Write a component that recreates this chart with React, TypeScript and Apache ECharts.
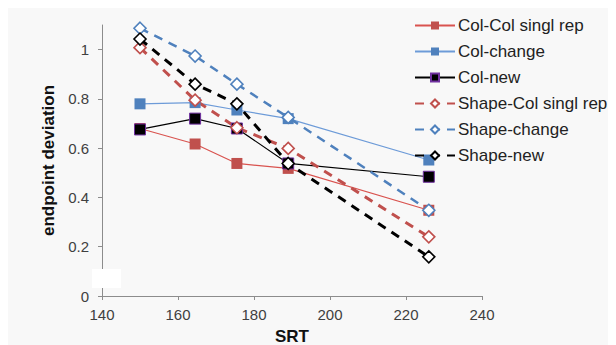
import React, { useEffect, useRef } from "react";
import * as echarts from "echarts";

const srt = [150, 164.5, 175.5, 189, 226];
const seriesNames = [
  "Col-Col singl rep",
  "Col-change",
  "Col-new",
  "Shape-Col singl rep",
  "Shape-change",
  "Shape-new",
];
const colColSingl = [0.68, 0.617, 0.538, 0.518, 0.348];
const colChange = [0.78, 0.785, 0.755, 0.72, 0.552];
const colNew = [0.676, 0.72, 0.68, 0.538, 0.484];
const shapeColSingl = [1.008, 0.795, 0.683, 0.599, 0.24];
const shapeChange = [1.087, 0.974, 0.86, 0.725, 0.348];
const shapeNew = [1.043, 0.86, 0.78, 0.538, 0.159];
const yTicks = [0, 0.2, 0.4, 0.6, 0.8, 1];

const FONT = "'Liberation Sans', Arial, sans-serif";
const RED = "#c0504d";
const BLUE = "#4f81bd";
const BLACK = "#000000";

const pairs = (ys: number[]) => srt.map((x, i) => [x, ys[i]]);

export default function App() {
  const ref = useRef<HTMLDivElement>(null);
  useEffect(() => {
    if (!ref.current) return;
    const chart = echarts.init(ref.current, undefined, { renderer: "svg" });
    const solid = (name: string, ys: number[], color: string, lineColor: string, border?: string) => ({
      name,
      type: "line",
      data: pairs(ys),
      symbol: "rect",
      symbolSize: 11,
      itemStyle: { color, borderColor: border || color, borderWidth: border ? 1 : 0 },
      lineStyle: { color: lineColor, width: 1.2, type: "solid" },
    });
    const dashed = (name: string, ys: number[], color: string, width: number) => ({
      name,
      type: "line",
      data: pairs(ys),
      symbol: "diamond",
      symbolSize: 12,
      itemStyle: { color: "#ffffff", borderColor: color, borderWidth: 1.6 },
      lineStyle: { color, width, type: [9, 7] },
    });
    chart.setOption({
      animation: false,
      backgroundColor: "#f8f8f8",
      textStyle: { fontFamily: FONT },
      grid: { left: 94, top: 17, right: 134, bottom: 49, outerBoundsMode: "none" },
      legend: {
        orient: "vertical",
        left: 401,
        top: 4,
        itemWidth: 40,
        itemHeight: 10,
        itemGap: 9,
        data: seriesNames,
        textStyle: { fontFamily: FONT, fontSize: 17, color: "#222", padding: [0, 0, 0, -2] },
      },
      xAxis: {
        type: "value",
        min: 140,
        max: 240,
        interval: 20,
        name: "SRT",
        nameLocation: "middle",
        nameGap: 32,
        nameTextStyle: { fontFamily: FONT, fontSize: 17, fontWeight: "bold", color: "#111" },
        axisLine: { show: true, lineStyle: { color: "#8c8c8c", width: 1 } },
        axisTick: { show: true, length: 4, lineStyle: { color: "#8c8c8c" } },
        axisLabel: { fontFamily: FONT, fontSize: 15, color: "#404040", margin: 11 },
        splitLine: { show: false },
      },
      yAxis: {
        type: "value",
        min: 0,
        max: 1.1,
        name: "endpoint deviation",
        nameLocation: "middle",
        nameRotate: 90,
        nameGap: 35,
        nameTextStyle: { fontFamily: FONT, fontSize: 17, fontWeight: "bold", color: "#111" },
        axisLine: { show: true, lineStyle: { color: "#8c8c8c", width: 1 } },
        axisTick: { show: true, length: 4, lineStyle: { color: "#8c8c8c" }, customValues: yTicks },
        axisLabel: { fontFamily: FONT, fontSize: 15, color: "#404040", margin: 13, customValues: yTicks },
        splitLine: { show: false },
      },
      graphic: [
        { type: "rect", left: 84, top: 261, shape: { width: 29, height: 19 }, style: { fill: "#ffffff" }, z: 100 },
      ],
      series: [
        solid(seriesNames[0], colColSingl, RED, "#d9534f"),
        solid(seriesNames[1], colChange, BLUE, "#6d9bd8"),
        solid(seriesNames[2], colNew, BLACK, BLACK, "#7030a0"),
        dashed(seriesNames[3], shapeColSingl, RED, 3),
        dashed(seriesNames[4], shapeChange, BLUE, 2.5),
        dashed(seriesNames[5], shapeNew, BLACK, 3),
      ],
    });
    return () => chart.dispose();
  }, []);
  return <div ref={ref} style={{ width: 608, height: 337 }} />;
}
